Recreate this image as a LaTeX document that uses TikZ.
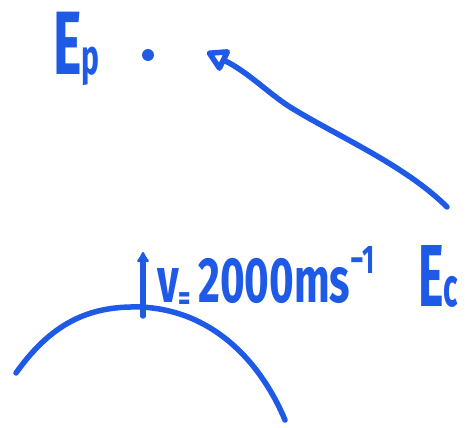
\documentclass[tikz,border=0pt]{standalone}
\usepackage{fontspec}
\setsansfont{Fira Sans}
\usetikzlibrary{arrows.meta}
\definecolor{penblue}{HTML}{1E5AE6}

\begin{document}
\begin{tikzpicture}[
  x=1pt, y=-1pt,
  ink/.style={draw=penblue, line width=5.5pt, line cap=round, line join=round},
  handtext/.style={text=penblue, font=\sffamily\bfseries, inner sep=0pt, anchor=base west},
  pointer/.style={ink, -{Triangle[open, round, length=24pt, width=26pt]}},
  lift/.style={ink, -{Latex[round, length=12pt, width=15pt]}}
]
\clip (0,0) rectangle (467,428);
\fill[white] (0,0) rectangle (467,428);

% labels
\node[handtext] (ep) at (53,75)
  {\scalebox{0.6}[1]{\fontsize{90}{90}\selectfont E\fontsize{50}{50}\selectfont p}};
\node[circle, fill=penblue, inner sep=0pt, minimum size=12pt] (dot) at (148,55) {};
\node[handtext] (speed) at (157,302)
  {\scalebox{0.66}[1]{\fontsize{64}{64}\selectfont v\raisebox{-8pt}{\fontsize{36}{36}\selectfont =}\,2000ms\raisebox{29pt}{\fontsize{40}{40}\selectfont −1}}};
\node[handtext] (ec) at (418,307)
  {\scalebox{0.55}[1]{\fontsize{88}{88}\selectfont E\fontsize{55}{55}\selectfont c}};

% arrow pointing back at Ep
\coordinate (tail) at (447,207);
\coordinate (tip) at (207,52);
\draw[pointer] (tail) .. controls (405,165) and (335,135) .. (290,107)
  .. controls (268,93) and (248,72) .. (tip);

% trajectory and velocity at the top
\draw[ink] (16,373) .. controls (55,318) and (95,306) .. (140,307)
  .. controls (215,310) and (262,365) .. (285,420);
\coordinate (top) at (143,316);
\coordinate (up) at (143,252);
\draw[lift] (top) -- (up);
\end{tikzpicture}
\end{document}
